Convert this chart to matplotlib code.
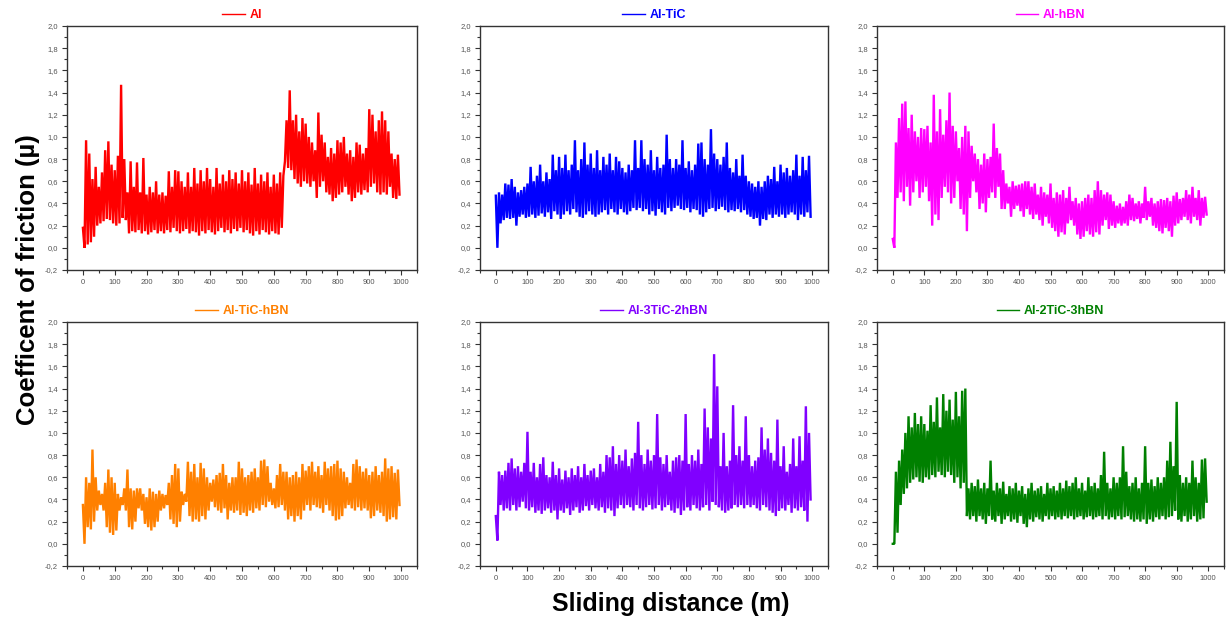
import numpy as np
import matplotlib.pyplot as plt
from matplotlib.ticker import MultipleLocator, FuncFormatter

plt.rcParams['font.family'] = ['Liberation Sans', 'DejaVu Sans']

# readings every 5 m, alternating local peak / local trough
step = 5

al_hi = [0.18, 0.97, 0.85, 0.62, 0.73, 0.55, 0.68, 0.88, 0.96, 0.75,
         0.70, 0.83, 1.47, 0.80, 0.50, 0.78, 0.55, 0.77, 0.50, 0.81,
         0.48, 0.55, 0.50, 0.60, 0.48, 0.50, 0.47, 0.69, 0.55, 0.70,
         0.69, 0.60, 0.55, 0.68, 0.55, 0.72, 0.58, 0.70, 0.60, 0.72,
         0.62, 0.55, 0.72, 0.58, 0.66, 0.60, 0.70, 0.62, 0.68, 0.58,
         0.70, 0.60, 0.68, 0.57, 0.72, 0.58, 0.66, 0.60, 0.68, 0.55,
         0.66, 0.58, 0.68, 0.65, 1.15, 1.42, 1.15, 1.20, 1.05, 1.17,
         1.12, 1.00, 0.95, 0.88, 1.22, 1.02, 0.95, 0.82, 0.90, 0.85,
         0.97, 0.95, 1.00, 0.85, 0.88, 0.82, 0.95, 0.93, 0.85, 0.90,
         1.25, 1.20, 1.05, 1.15, 1.23, 1.15, 1.05, 0.85, 0.80, 0.84]
al_lo = [0.00, 0.03, 0.05, 0.10, 0.20, 0.22, 0.24, 0.26, 0.25, 0.22,
         0.20, 0.22, 0.27, 0.25, 0.13, 0.15, 0.14, 0.16, 0.13, 0.15,
         0.12, 0.14, 0.16, 0.13, 0.15, 0.13, 0.16, 0.14, 0.18, 0.15,
         0.13, 0.15, 0.17, 0.13, 0.15, 0.14, 0.11, 0.15, 0.13, 0.16,
         0.14, 0.12, 0.15, 0.18, 0.14, 0.16, 0.13, 0.17, 0.15, 0.18,
         0.14, 0.16, 0.13, 0.11, 0.15, 0.12, 0.16, 0.14, 0.12, 0.15,
         0.13, 0.12, 0.18, 0.78, 0.72, 0.70, 0.62, 0.58, 0.55, 0.60,
         0.58, 0.55, 0.60, 0.45, 0.55, 0.60, 0.50, 0.48, 0.42, 0.45,
         0.48, 0.50, 0.55, 0.48, 0.42, 0.45, 0.50, 0.48, 0.52, 0.50,
         0.55, 0.58, 0.50, 0.48, 0.50, 0.48, 0.55, 0.45, 0.44, 0.48]

altic_hi = [0.47, 0.50, 0.48, 0.58, 0.57, 0.62, 0.55, 0.50, 0.52, 0.55,
            0.58, 0.73, 0.60, 0.65, 0.75, 0.60, 0.68, 0.62, 0.84, 0.70,
            0.82, 0.72, 0.84, 0.70, 0.75, 0.97, 0.70, 0.80, 0.95, 0.75,
            0.85, 0.72, 0.88, 0.70, 0.82, 0.75, 0.85, 0.70, 0.82, 0.78,
            0.72, 0.68, 0.75, 0.70, 0.97, 0.72, 0.97, 0.80, 0.75, 0.88,
            0.70, 0.82, 0.72, 0.75, 1.02, 0.80, 0.72, 0.80, 0.75, 0.97,
            0.72, 0.78, 0.70, 0.75, 0.94, 0.95, 0.80, 0.75, 1.07, 0.85,
            0.80, 0.75, 0.82, 0.95, 0.72, 0.68, 0.80, 0.65, 0.84, 0.65,
            0.60, 0.58, 0.55, 0.60, 0.55, 0.60, 0.65, 0.62, 0.73, 0.60,
            0.75, 0.68, 0.72, 0.65, 0.70, 0.84, 0.65, 0.82, 0.70, 0.83]
altic_lo = [0.00, 0.22, 0.25, 0.27, 0.26, 0.27, 0.20, 0.28, 0.30, 0.27,
            0.28, 0.30, 0.27, 0.29, 0.31, 0.28, 0.32, 0.26, 0.33, 0.30,
            0.26, 0.30, 0.33, 0.30, 0.35, 0.32, 0.28, 0.27, 0.30, 0.33,
            0.30, 0.28, 0.30, 0.32, 0.34, 0.30, 0.35, 0.32, 0.30, 0.35,
            0.32, 0.30, 0.33, 0.36, 0.34, 0.36, 0.33, 0.35, 0.30, 0.33,
            0.29, 0.35, 0.32, 0.30, 0.36, 0.33, 0.36, 0.38, 0.35, 0.34,
            0.36, 0.32, 0.35, 0.34, 0.30, 0.28, 0.32, 0.35, 0.36, 0.33,
            0.35, 0.37, 0.34, 0.32, 0.34, 0.33, 0.35, 0.32, 0.34, 0.30,
            0.28, 0.26, 0.27, 0.20, 0.26, 0.25, 0.30, 0.27, 0.30, 0.28,
            0.30, 0.27, 0.30, 0.32, 0.30, 0.25, 0.30, 0.28, 0.32, 0.28]

alhbn_hi = [0.08, 0.95, 1.17, 1.30, 1.32, 1.08, 1.20, 1.05, 1.00, 1.08,
            1.07, 1.10, 0.95, 1.38, 1.05, 1.25, 1.02, 1.15, 1.40, 1.10,
            1.05, 0.90, 1.00, 1.10, 1.05, 0.92, 0.85, 0.80, 0.75, 0.85,
            0.80, 0.82, 1.12, 0.90, 0.85, 0.70, 0.58, 0.55, 0.60, 0.56,
            0.57, 0.58, 0.60, 0.60, 0.55, 0.58, 0.48, 0.55, 0.50, 0.48,
            0.58, 0.45, 0.50, 0.48, 0.52, 0.45, 0.55, 0.42, 0.45, 0.40,
            0.42, 0.45, 0.48, 0.45, 0.52, 0.60, 0.52, 0.48, 0.50, 0.48,
            0.42, 0.38, 0.40, 0.37, 0.42, 0.48, 0.45, 0.40, 0.42, 0.40,
            0.55, 0.42, 0.45, 0.40, 0.42, 0.44, 0.43, 0.45, 0.42, 0.47,
            0.50, 0.44, 0.45, 0.52, 0.48, 0.55, 0.45, 0.52, 0.45, 0.46]
alhbn_lo = [0.00, 0.45, 0.50, 0.42, 0.55, 0.38, 0.50, 0.60, 0.45, 0.50,
            0.55, 0.42, 0.20, 0.30, 0.25, 0.45, 0.55, 0.50, 0.40, 0.45,
            0.60, 0.35, 0.30, 0.15, 0.45, 0.60, 0.50, 0.35, 0.40, 0.32,
            0.45, 0.50, 0.45, 0.55, 0.35, 0.35, 0.40, 0.28, 0.35, 0.38,
            0.33, 0.28, 0.35, 0.30, 0.26, 0.30, 0.25, 0.20, 0.28, 0.22,
            0.18, 0.15, 0.10, 0.14, 0.12, 0.22, 0.25, 0.20, 0.12, 0.08,
            0.10, 0.15, 0.12, 0.10, 0.14, 0.12, 0.20, 0.25, 0.17, 0.20,
            0.18, 0.22, 0.20, 0.22, 0.20, 0.25, 0.24, 0.26, 0.22, 0.27,
            0.25, 0.28, 0.20, 0.18, 0.15, 0.13, 0.18, 0.15, 0.10, 0.20,
            0.22, 0.25, 0.28, 0.25, 0.22, 0.28, 0.25, 0.20, 0.27, 0.30]

tichbn_hi = [0.35, 0.60, 0.55, 0.85, 0.60, 0.48, 0.45, 0.55, 0.67, 0.60,
             0.55, 0.45, 0.42, 0.50, 0.67, 0.50, 0.48, 0.50, 0.50, 0.45,
             0.42, 0.50, 0.47, 0.45, 0.48, 0.45, 0.44, 0.55, 0.62, 0.72,
             0.68, 0.47, 0.45, 0.74, 0.65, 0.72, 0.60, 0.73, 0.68, 0.60,
             0.55, 0.58, 0.62, 0.64, 0.72, 0.62, 0.55, 0.60, 0.60, 0.74,
             0.68, 0.60, 0.62, 0.65, 0.68, 0.60, 0.75, 0.76, 0.70, 0.55,
             0.50, 0.62, 0.72, 0.65, 0.65, 0.60, 0.62, 0.65, 0.60, 0.72,
             0.66, 0.70, 0.74, 0.65, 0.70, 0.62, 0.74, 0.68, 0.70, 0.72,
             0.75, 0.68, 0.65, 0.60, 0.55, 0.72, 0.76, 0.70, 0.65, 0.68,
             0.62, 0.65, 0.70, 0.62, 0.65, 0.77, 0.68, 0.70, 0.64, 0.67]
tichbn_lo = [0.00, 0.15, 0.13, 0.20, 0.30, 0.35, 0.30, 0.15, 0.10, 0.08,
             0.12, 0.30, 0.35, 0.30, 0.15, 0.13, 0.20, 0.32, 0.30, 0.18,
             0.15, 0.12, 0.15, 0.20, 0.30, 0.32, 0.35, 0.22, 0.18, 0.15,
             0.20, 0.35, 0.38, 0.25, 0.20, 0.22, 0.20, 0.25, 0.22, 0.30,
             0.38, 0.33, 0.30, 0.28, 0.32, 0.22, 0.30, 0.28, 0.30, 0.26,
             0.28, 0.25, 0.30, 0.28, 0.32, 0.30, 0.35, 0.33, 0.38, 0.35,
             0.32, 0.33, 0.35, 0.30, 0.22, 0.25, 0.20, 0.25, 0.22, 0.30,
             0.35, 0.30, 0.35, 0.33, 0.32, 0.28, 0.35, 0.30, 0.25, 0.21,
             0.22, 0.25, 0.32, 0.35, 0.32, 0.30, 0.33, 0.30, 0.32, 0.30,
             0.23, 0.25, 0.30, 0.28, 0.25, 0.20, 0.22, 0.24, 0.22, 0.35]

tic3_hi = [0.25, 0.65, 0.62, 0.66, 0.73, 0.77, 0.68, 0.70, 0.65, 0.73,
           1.01, 0.65, 0.73, 0.60, 0.72, 0.78, 0.62, 0.60, 0.74, 0.62,
           0.68, 0.58, 0.66, 0.60, 0.68, 0.62, 0.70, 0.60, 0.72, 0.62,
           0.66, 0.68, 0.60, 0.72, 0.65, 0.80, 0.78, 0.88, 0.72, 0.80,
           0.75, 0.85, 0.70, 0.77, 0.82, 1.10, 0.80, 0.72, 0.85, 0.75,
           0.80, 1.17, 0.78, 0.72, 0.80, 0.65, 0.75, 0.78, 0.80, 0.75,
           1.17, 0.72, 0.80, 0.75, 0.85, 0.72, 1.22, 1.05, 0.95, 1.71,
           1.42, 0.70, 1.00, 0.70, 0.75, 1.25, 0.80, 0.88, 0.75, 1.15,
           0.80, 0.70, 0.75, 0.78, 1.05, 0.85, 0.95, 0.82, 0.75, 1.12,
           0.70, 0.88, 0.65, 0.72, 0.95, 0.70, 0.97, 0.75, 1.24, 1.00]
tic3_lo = [0.03, 0.35, 0.30, 0.32, 0.30, 0.35, 0.30, 0.33, 0.38, 0.32,
           0.30, 0.33, 0.28, 0.30, 0.27, 0.30, 0.32, 0.28, 0.30, 0.22,
           0.30, 0.28, 0.32, 0.26, 0.30, 0.33, 0.28, 0.30, 0.34, 0.30,
           0.35, 0.32, 0.30, 0.33, 0.28, 0.32, 0.30, 0.25, 0.32, 0.35,
           0.32, 0.35, 0.33, 0.30, 0.35, 0.32, 0.30, 0.33, 0.35, 0.31,
           0.32, 0.35, 0.30, 0.33, 0.35, 0.30, 0.28, 0.32, 0.26, 0.30,
           0.33, 0.30, 0.35, 0.32, 0.30, 0.33, 0.35, 0.30, 0.38, 0.35,
           0.33, 0.30, 0.28, 0.30, 0.32, 0.35, 0.33, 0.35, 0.32, 0.35,
           0.33, 0.35, 0.32, 0.30, 0.35, 0.33, 0.30, 0.28, 0.25, 0.30,
           0.32, 0.30, 0.35, 0.28, 0.32, 0.30, 0.33, 0.30, 0.20, 0.40]

tic2_hi = [0.00, 0.65, 0.75, 0.85, 1.00, 1.15, 1.05, 1.18, 1.08, 1.15,
           1.08, 1.02, 1.25, 1.10, 1.32, 1.05, 1.35, 1.20, 1.30, 1.12,
           1.37, 1.15, 1.38, 1.40, 0.50, 0.55, 0.52, 0.58, 0.50, 0.55,
           0.50, 0.75, 0.48, 0.55, 0.50, 0.56, 0.45, 0.52, 0.50, 0.55,
           0.48, 0.52, 0.45, 0.50, 0.55, 0.48, 0.50, 0.52, 0.45, 0.55,
           0.50, 0.52, 0.48, 0.55, 0.50, 0.57, 0.52, 0.55, 0.60, 0.50,
           0.55, 0.48, 0.60, 0.52, 0.55, 0.50, 0.62, 0.83, 0.55, 0.50,
           0.60, 0.55, 0.60, 0.88, 0.65, 0.52, 0.55, 0.60, 0.50, 0.55,
           0.88, 0.55, 0.58, 0.52, 0.60, 0.55, 0.60, 0.75, 0.92, 0.70,
           1.28, 0.62, 0.55, 0.60, 0.55, 0.75, 0.60, 0.55, 0.76, 0.77]
tic2_lo = [0.00, 0.10, 0.35, 0.45, 0.50, 0.55, 0.58, 0.60, 0.56, 0.55,
           0.60, 0.58, 0.62, 0.60, 0.65, 0.62, 0.60, 0.65, 0.62, 0.55,
           0.60, 0.50, 0.55, 0.25, 0.22, 0.25, 0.20, 0.25, 0.22, 0.18,
           0.25, 0.22, 0.20, 0.25, 0.18, 0.22, 0.25, 0.20, 0.22, 0.19,
           0.25, 0.18, 0.15, 0.22, 0.20, 0.24, 0.22, 0.20, 0.25, 0.22,
           0.25, 0.22, 0.24, 0.22, 0.25, 0.23, 0.25, 0.22, 0.24, 0.25,
           0.22, 0.24, 0.25, 0.22, 0.24, 0.25, 0.22, 0.25, 0.22, 0.24,
           0.22, 0.25, 0.22, 0.24, 0.25, 0.22, 0.20, 0.22, 0.20, 0.22,
           0.18, 0.22, 0.20, 0.24, 0.22, 0.25, 0.22, 0.24, 0.25, 0.30,
           0.22, 0.20, 0.25, 0.20, 0.22, 0.25, 0.20, 0.22, 0.23, 0.38]

names = ['Al', 'Al-TiC', 'Al-hBN', 'Al-TiC-hBN', 'Al-3TiC-2hBN', 'Al-2TiC-3hBN']
colors = ['#ff0000', '#0000ff', '#ff00ff', '#ff8000', '#8000ff', '#008000']
highs = [al_hi, altic_hi, alhbn_hi, tichbn_hi, tic3_hi, tic2_hi]
lows = [al_lo, altic_lo, alhbn_lo, tichbn_lo, tic3_lo, tic2_lo]


def trace(hi, lo):
    y = np.empty(len(hi) + len(lo))
    y[0::2] = hi
    y[1::2] = lo
    x = np.arange(len(y)) * step
    return x, y


fig = plt.figure(figsize=(12.26, 6.22), dpi=100)

lefts = [67, 480, 877]
widths = [350, 348, 347]
tops = [26, 322]
H = 244
W_PX, H_PX = 1226, 622

for k in range(6):
    r, c = divmod(k, 3)
    ax = fig.add_axes([lefts[c] / W_PX, 1 - (tops[r] + H) / H_PX,
                       widths[c] / W_PX, H / H_PX])
    x, y = trace(highs[k], lows[k])
    ax.plot(x, y, color=colors[k], lw=1.7, solid_joinstyle='bevel',
            label=names[k])
    ax.set_xlim(-50, 1050)
    ax.set_ylim(-0.2, 2.0)
    ax.xaxis.set_major_locator(MultipleLocator(100))
    ax.xaxis.set_minor_locator(MultipleLocator(50))
    ax.yaxis.set_major_locator(MultipleLocator(0.2))
    ax.yaxis.set_minor_locator(MultipleLocator(0.1))
    ax.yaxis.set_major_formatter(FuncFormatter(lambda v, p: f'{v:.1f}'.replace('.', ',')))
    ax.tick_params(which='both', direction='out', labelsize=5.5,
                   labelcolor='#555555', color='#333333', width=0.8)
    ax.tick_params(which='major', length=3.5, pad=3)
    ax.tick_params(which='minor', length=2)
    for s in ax.spines.values():
        s.set_color('#333333')
        s.set_linewidth(1.0)
    leg = ax.legend(loc='lower center', bbox_to_anchor=(0.5, 0.995), frameon=False,
                    handlelength=1.8, handletextpad=0.4, borderaxespad=0.1,
                    prop={'weight': 'bold', 'size': 9})
    leg.get_lines()[0].set_linewidth(1.0)
    for t in leg.get_texts():
        t.set_color(colors[k])

fig.text(0.023, 0.551, 'Coefficent of friction (\u00b5)', rotation=90,
         ha='center', va='center', fontsize=18.5, fontweight='bold')
fig.text(0.547, 0.029, 'Sliding distance (m)', ha='center', va='center',
         fontsize=18, fontweight='bold')

fig.savefig('out.png', dpi=100)
